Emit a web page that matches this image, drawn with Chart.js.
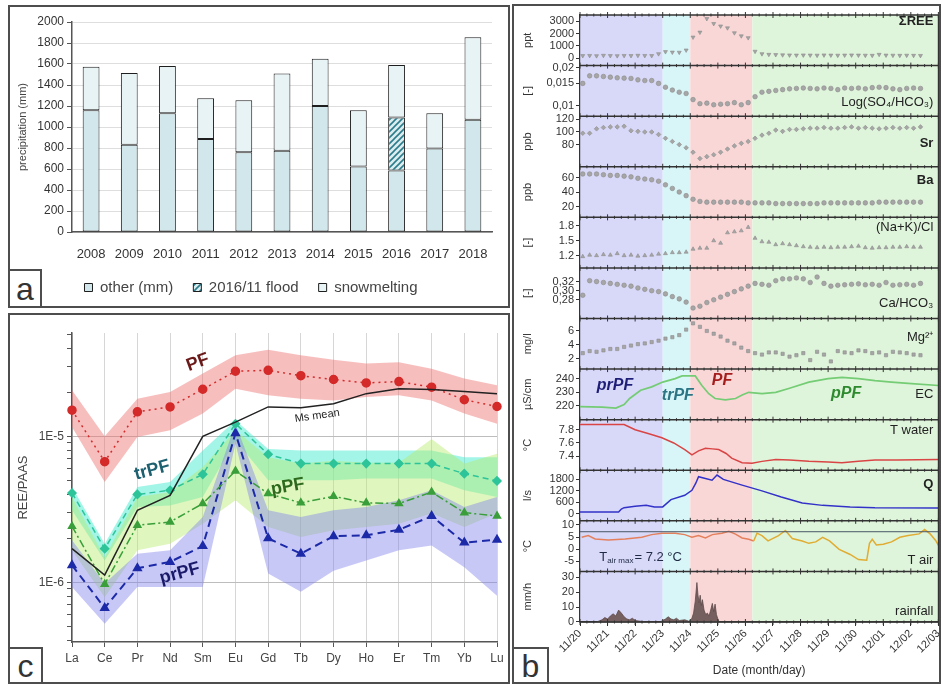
<!DOCTYPE html>
<html lang="en">
<head>
<meta charset="utf-8">
<title>Precipitation, REE patterns and flood hydrochemistry</title>
<script src="https://cdn.jsdelivr.net/npm/chart.js@4.4.1/dist/chart.umd.min.js"></script>
<style>
  html, body { margin: 0; padding: 0; background: #fff; }
  #page { position: relative; width: 942px; height: 684px; overflow: hidden; }
  canvas { position: absolute; }
  .frame { position: absolute; box-sizing: border-box; border: 2px solid #4d4d4d; pointer-events: none; }
  .tag { position: absolute; box-sizing: border-box; border: 2px solid #4d4d4d; background: #fff;
         font: 32px "Liberation Sans", Arial, sans-serif; color: #333; text-align: center; }
</style>
</head>
<body>
<div id="page">
  <canvas id="chartA" width="498" height="298" style="left:10px;top:7px"></canvas>
  <canvas id="chartC" width="498" height="366" style="left:10px;top:315px"></canvas>
  <canvas id="chartB" width="429" height="676" style="left:514px;top:6px"></canvas>
  <div class="frame" style="left:8px;top:5px;width:502px;height:303px"></div>
  <div class="frame" style="left:8px;top:313px;width:502px;height:371px"></div>
  <div class="frame" style="left:512px;top:4px;width:429px;height:680px"></div>
  <div class="tag" style="left:8px;top:269px;width:34px;height:39px;line-height:36px">a</div>
  <div class="tag" style="left:8px;top:647px;width:35px;height:37px;line-height:34px">c</div>
  <div class="tag" style="left:512px;top:647px;width:37px;height:37px;line-height:34px">b</div>
</div>
<script>
// ═══ (a) yearly precipitation ══════════════════════════════════════════
const years   = ['2008', '2009', '2010', '2011', '2012', '2013', '2014', '2015', '2016', '2017', '2018'];
const otherMm = [1160, 830, 1130, 885, 760, 775, 1200, 625, 585, 795, 1070];
const floodMm = [null, null, null, null, null, null, null, null, 505, null, null];
const snowMm  = [415, 685, 450, 390, 495, 735, 450, 535, 500, 335, 785];

// ═══ (c) REE/PAAS patterns ═════════════════════════════════════════════
const elements = ['La', 'Ce', 'Pr', 'Nd', 'Sm', 'Eu', 'Gd', 'Tb', 'Dy', 'Ho', 'Er', 'Tm', 'Yb', 'Lu'];
const pfMean   = [1.51e-5, 6.7e-6, 1.47e-5, 1.59e-5, 2.10e-5, 2.79e-5, 2.83e-5, 2.60e-5, 2.45e-5, 2.32e-5, 2.37e-5, 2.17e-5, 1.78e-5, 1.60e-5];
const pfHigh   = [2.07e-5, 1.0e-5, 1.81e-5, 2.01e-5, 2.69e-5, 3.59e-5, 3.92e-5, 3.59e-5, 3.35e-5, 3.15e-5, 3.22e-5, 2.9e-5, 2.49e-5, 2.24e-5];
const pfLow    = [1.16e-5, 4.87e-6, 9.9e-6, 1.1e-5, 1.43e-5, 2.12e-5, 1.91e-5, 1.81e-5, 1.76e-5, 1.86e-5, 1.91e-5, 1.76e-5, 1.43e-5, 1.22e-5];
const msMean   = [1.70e-6, 1.12e-6, 3.11e-6, 3.94e-6, 1.0e-5, 1.25e-5, 1.59e-5, 1.57e-5, 1.67e-5, 1.96e-5, 2.12e-5, 2.09e-5, 2.03e-5, 1.96e-5];
const trpfMean = [4.09e-6, 1.70e-6, 4.0e-6, 4.27e-6, 5.49e-6, 1.22e-5, 7.53e-6, 6.5e-6, 6.5e-6, 6.5e-6, 6.5e-6, 6.5e-6, 5.55e-6, 4.95e-6];
const trpfHigh = [4.5e-6, 1.84e-6, 4.5e-6, 4.87e-6, 8.0e-6, 1.29e-5, 8.2e-6, 8.0e-6, 8.0e-6, 8.0e-6, 8.0e-6, 8.0e-6, 7.2e-6, 7.2e-6];
const trpfLow  = [3.11e-6, 1.41e-6, 3.28e-6, 3.36e-6, 3.84e-6, 9.4e-6, 5.0e-6, 5.0e-6, 5.0e-6, 5.14e-6, 5.14e-6, 5.14e-6, 4.27e-6, 3.84e-6];
const ppfMean  = [2.42e-6, 9.7e-7, 2.46e-6, 2.59e-6, 3.46e-6, 5.79e-6, 4.05e-6, 3.5e-6, 3.88e-6, 3.5e-6, 3.46e-6, 4.15e-6, 3.0e-6, 2.85e-6];
const ppfHigh  = [3.84e-6, 1.49e-6, 3.84e-6, 4.16e-6, 6.17e-6, 1.1e-5, 7.2e-6, 6.5e-6, 6.8e-6, 6.6e-6, 6.6e-6, 9.6e-6, 6.5e-6, 7.6e-6];
const ppfLow   = [1.66e-6, 7.9e-7, 1.66e-6, 1.84e-6, 2.52e-6, 3.65e-6, 2.39e-6, 2.04e-6, 2.27e-6, 2.39e-6, 2.52e-6, 2.97e-6, 2.39e-6, 2.97e-6];
const prpfMean = [1.31e-6, 6.67e-7, 1.25e-6, 1.38e-6, 1.77e-6, 1.05e-5, 2.0e-6, 1.57e-6, 2.07e-6, 2.1e-6, 2.29e-6, 2.84e-6, 1.87e-6, 1.96e-6];
const prpfHigh = [1.94e-6, 9.8e-7, 1.57e-6, 1.66e-6, 2.8e-6, 1.22e-5, 3.11e-6, 2.8e-6, 3.11e-6, 3.28e-6, 3.65e-6, 4.27e-6, 3.28e-6, 3.84e-6];
const prpfLow  = [9.3e-7, 5.2e-7, 9.3e-7, 9.3e-7, 9.3e-7, 8.9e-6, 1.15e-6, 8.6e-7, 1.2e-6, 1.41e-6, 1.66e-6, 1.79e-6, 1.27e-6, 8.1e-7];
const reeTicks = [4e-7, 5e-7, 6e-7, 7e-7, 8e-7, 9e-7, 1e-6, 2e-6, 3e-6, 4e-6, 5e-6, 6e-6, 7e-6, 8e-6, 9e-6, 1e-5, 2e-5, 3e-5, 4e-5, 5e-5];

// ═══ (b) November 2016 flood time series (x = days after 11/20 00:00) ════
const dateLabels = ['11/20', '11/21', '11/22', '11/23', '11/24', '11/25', '11/26', '11/27', '11/28', '11/29', '11/30', '12/01', '12/02', '12/03'];
const phaseStart = [0, 3, 4, 6.25];
const phaseEnd   = [3, 4, 6.25, 13];
const sampleDay = [0.1, 0.35, 0.6, 0.85, 1.1, 1.35, 1.6, 1.85, 2.1, 2.35, 2.6, 2.85, 3.1, 3.35, 3.6, 3.85, 4.1, 4.35, 4.6, 4.85,
                   5.1, 5.35, 5.6, 5.85, 6.1, 6.35, 6.6, 6.85, 7.1, 7.35, 7.6, 7.85, 8.1, 8.35, 8.6, 8.85, 9.1, 9.35, 9.6, 9.85,
                   10.1, 10.35, 10.6, 10.85, 11.1, 11.35, 11.6, 11.85, 12.1, 12.35];
const reeSum = [200, 210, 190, 220, 200, 190, 210, 200, 220, 210, 200, 350, 520, 480, 470, 650, 1700, 2100, 3200, 2800,
                2600, 2450, 2050, 1800, 1650, 550, 350, 300, 280, 260, 250, 240, 250, 240, 230, 250, 240, 230, 240, 250,
                240, 230, 220, 300, 240, 230, 220, 230, 220, 210];
const so4Hco3 = [0.0150, 0.0172, 0.0172, 0.0170, 0.0168, 0.0166, 0.0165, 0.0164, 0.0160, 0.0158, 0.0158, 0.0150, 0.0140, 0.0133, 0.0128, 0.0125,
                 0.0112, 0.0104, 0.0105, 0.0102, 0.0103, 0.0104, 0.0106, 0.0102, 0.0106, 0.0118, 0.0128, 0.0130, 0.0132, 0.0134,
                 0.0136, 0.0137, 0.0138, 0.0137, 0.0136, 0.0138, 0.0137, 0.0134, 0.0138, 0.0137, 0.0138, 0.0136, 0.0139, 0.0140,
                 0.0139, 0.0136, 0.0134, 0.0137, 0.0138, 0.0137];
const srPpb = [98, 98, 105, 107, 108, 108, 109, 102, 101, 100, 100, 96, 90, 85, 80, 75, 68, 58, 61, 64, 68, 73, 78, 82, 85,
               90, 95, 98, 103, 101, 104, 104, 105, 106, 106, 107, 106, 106, 107, 108, 106, 107, 106, 105, 106, 107, 106, 107, 106, 108];
const baPpb = [65, 65, 65, 64, 63, 63, 62, 61, 59, 58, 57, 55, 50, 45, 40, 35, 30, 27, 26, 26, 26, 26, 26, 26, 25,
               25, 25, 25, 24, 24, 24, 24, 24, 24, 24, 25, 25, 25, 25, 25, 25, 25, 25, 26, 26, 26, 26, 26, 26, 26];
const naKCl = [1.18, 1.21, 1.20, 1.22, 1.21, 1.24, 1.20, 1.21, 1.19, 1.20, 1.21, 1.23, 1.24, 1.26, 1.26, 1.27,
               1.33, 1.35, 1.35, 1.50, 1.45, 1.66, 1.68, 1.70, 1.77, 1.55, 1.48, 1.47, 1.42, 1.44, 1.42, 1.40, 1.38, 1.37,
               1.36, 1.37, 1.36, 1.37, 1.37, 1.38, 1.39, 1.36, 1.35, 1.36, 1.36, 1.37, 1.37, 1.38, 1.37, 1.37];
const caHco3 = [0.290, 0.322, 0.320, 0.318, 0.316, 0.314, 0.312, 0.310, 0.306, 0.303, 0.300, 0.298, 0.293, 0.287, 0.282, 0.275,
                0.262, 0.266, 0.274, 0.280, 0.286, 0.292, 0.298, 0.304, 0.310, 0.316, 0.314, 0.312, 0.322, 0.326, 0.326, 0.328,
                0.326, 0.318, 0.330, 0.316, 0.310, 0.312, 0.313, 0.314, 0.315, 0.313, 0.314, 0.312, 0.318, 0.312, 0.313, 0.314, 0.312, 0.316];
const mgMgl = [2.8, 3.1, 3.0, 3.2, 3.4, 3.4, 3.7, 3.9, 4.1, 4.2, 4.4, 4.6, 4.9, 5.1, 5.4, 6.2, 7.1, 6.6, 6.0, 5.6, 5.2, 4.6, 4.2, 3.6, 3.1,
               2.8, 2.6, 2.9, 2.9, 2.7, 2.3, 2.5, 2.8, 1.8, 3.0, 2.6, 1.6, 3.1, 2.9, 2.8, 3.2, 3.1, 2.8, 2.9, 2.5, 3.0, 2.9, 2.8, 2.6, 2.5];
const ecDay = [0, 0.8, 1.3, 1.6, 1.8, 2.2, 2.6, 3.0, 3.45, 3.7, 4.18, 4.42, 4.67, 4.9, 5.27, 5.64, 5.88, 6.12, 6.6, 7.1, 7.6, 8.3, 9.0, 9.5, 10.1, 10.7, 11.3, 11.9, 13];
const ecVal = [219.5, 219.2, 218.5, 221, 225.5, 231.5, 234, 237.5, 240, 242, 242, 235, 229, 225.5, 224.5, 225.5, 228, 230, 229, 230, 233, 237.5, 240, 241, 240, 238.5, 237.5, 236.5, 235];
const twDay = [0, 1.6, 2.0, 2.5, 2.97, 3.4, 3.8, 4.06, 4.3, 4.55, 4.8, 5.03, 5.3, 5.5, 5.88, 6.24, 6.6, 7.1, 7.6, 8.3, 9.0, 9.5, 10.1, 10.7, 11.5, 13];
const twVal = [7.88, 7.88, 7.80, 7.74, 7.68, 7.60, 7.50, 7.42, 7.48, 7.52, 7.51, 7.50, 7.44, 7.37, 7.30, 7.29, 7.32, 7.35, 7.34, 7.32, 7.31, 7.30, 7.32, 7.34, 7.34, 7.35];
const qDay = [0, 1.4, 1.5, 1.6, 2.0, 2.4, 2.7, 3.0, 3.3, 3.8, 4.06, 4.2, 4.3, 4.55, 4.79, 4.97, 5.2, 5.88, 6.6, 7.3, 8.06, 8.8, 9.8, 10.7, 13];
const qVal = [90, 90, 250, 320, 390, 440, 350, 360, 740, 970, 1230, 1600, 1940, 1850, 1760, 2030, 1800, 1500, 1200, 880, 570, 440, 354, 317, 300];
const taDay = [0.06, 0.3, 0.55, 1.03, 1.64, 2.24, 2.6, 2.97, 3.45, 3.8, 4.06, 4.3, 4.55, 4.8, 5.15, 5.4, 5.64, 5.88, 6.12, 6.3, 6.42, 6.6, 6.82,
               7.2, 7.45, 7.7, 8.06, 8.3, 8.55, 8.8, 9.05, 9.4, 9.8, 10.1, 10.4, 10.5, 10.6, 10.75, 11.0, 11.3, 11.6, 11.9, 12.3, 12.5, 12.7, 12.9, 13.0];
const taVal = [4.9, 5.6, 4.2, 3.8, 4.2, 4.9, 6.0, 6.6, 6.6, 6.0, 4.9, 5.6, 4.6, 6.0, 6.6, 7.4, 6.2, 4.6, 4.1, 3.4, 6.6, 5.6, 3.4,
               5.6, 7.7, 4.4, 3.4, 2.4, 3.0, 4.9, 3.4, -0.1, -2.2, -4.3, -4.6, 2.4, 4.1, 1.7, 2.0, 3.0, 4.9, 5.6, 6.3, 8.1, 6.3, 3.6, 1.6];
const taMax = 7.2;
const rainDay = [0.6, 0.8, 0.9, 1.0, 1.1, 1.2, 1.3, 1.4, 1.5, 1.6, 1.7, 1.8, 1.9, 2.0, 2.2, 2.4, 2.9, 3.0, 3.1, 3.2, 3.3, 3.4, 3.5, 3.6, 3.8, 3.95,
                 4.05, 4.12, 4.18, 4.24, 4.28, 4.32, 4.36, 4.4, 4.44, 4.5, 4.56, 4.62, 4.68, 4.74, 4.8, 4.85, 4.9, 4.95, 5.0, 5.05, 13];
const rainMm  = [0, 1.5, 3, 2, 4, 5.5, 4, 8, 6, 3.5, 2, 1.5, 2.5, 1, 0.5, 0, 0, 1, 2, 3.5, 2, 1.5, 2.5, 1, 1.5, 0.5,
                 2, 6, 14, 26.5, 18, 13, 18, 11, 15, 8, 5, 6, 4, 8, 12.5, 7, 12, 5, 2, 0, 0];

const seriesNames = ['ΣREE', 'Log(SO₄/HCO₃)', 'Sr', 'Ba', '(Na+K)/Cl', 'Ca/HCO₃', 'Mg²⁺', 'EC', 'T water', 'Q', 'T air', 'rainfall'];
const phaseNames  = ['prPF', 'trPF', 'PF', 'pPF'];

Chart.defaults.font.family = '"Liberation Sans", Arial, sans-serif';
Chart.defaults.color = '#333';
Chart.defaults.animation = false;

const FONT = '"Liberation Sans", Arial, sans-serif';
const pts = (xs, ys) => xs.map((x, i) => ({ x, y: ys[i] }));

// ─── (a) ────────────────────────────────────────────────────────────────
function floodPattern() {
    const c = document.createElement('canvas');
    c.width = 6; c.height = 6;
    const g = c.getContext('2d');
    g.fillStyle = '#dcedf0';
    g.fillRect(0, 0, 6, 6);
    g.strokeStyle = '#2b7d8c';
    g.lineWidth = 1.6;
    g.beginPath();
    g.moveTo(0, 6); g.lineTo(6, 0);
    g.moveTo(-1, 1); g.lineTo(1, -1);
    g.moveTo(5, 7); g.lineTo(7, 5);
    g.stroke();
    return g.createPattern(c, 'repeat');
}

const barStyle = { borderColor: '#1e1e1e', borderWidth: 1, borderSkipped: false };
new Chart(document.getElementById('chartA'), {
    type: 'bar',
    data: {
        labels: years,
        datasets: [
            { label: 'other (mm)',    data: otherMm, backgroundColor: '#d2e7eb', ...barStyle },
            { label: '2016/11 flood', data: floodMm, backgroundColor: floodPattern(), ...barStyle },
            { label: 'snowmelting',   data: snowMm,  backgroundColor: '#e8f3f5', ...barStyle }
        ]
    },
    options: {
        responsive: false,
        layout: { padding: { top: 15, right: 16, left: 0, bottom: 0 } },
        datasets: { bar: { barPercentage: 0.44, categoryPercentage: 1 } },
        plugins: {
            tooltip: { enabled: false },
            legend: { position: 'bottom', labels: { boxWidth: 8, boxHeight: 8, padding: 20, color: '#444', font: { size: 15 } } }
        },
        scales: {
            x: {
                stacked: true,
                grid: { display: false },
                border: { color: '#555', width: 1.5 },
                ticks: { color: '#333', font: { size: 13 }, padding: 7 },
                afterFit: (s) => { s.height = 28; }
            },
            y: {
                stacked: true, min: 0, max: 2000,
                ticks: { stepSize: 200, color: '#333', font: { size: 12 }, callback: (v) => String(v) },
                grid: { color: '#dedede', tickColor: '#555', tickLength: 5 },
                border: { color: '#555', width: 1.5 },
                title: { display: true, text: 'precipitation (mm)', color: '#444', font: { size: 11 }, padding: { top: 6, bottom: 0 } },
                afterFit: (s) => { s.width = 62; }
            }
        }
    }
});

// ─── (c) ────────────────────────────────────────────────────────────────
function band(high, low, color) {
    return [
        { data: high, fill: '+1', backgroundColor: color, borderWidth: 0, pointRadius: 0, order: 5 },
        { data: low, fill: false, borderWidth: 0, pointRadius: 0, order: 5 }
    ];
}
function meanLine(data, color, dash, style, width) {
    return {
        data, borderColor: color, borderDash: dash, borderWidth: width || 1.5, fill: false,
        pointStyle: style, pointRadius: 4, pointBackgroundColor: color, pointBorderColor: color, order: 1
    };
}

const reeLabels = [
    { text: 'PF',      at: 3.85, val: 3.2e-5,  rot: -20, color: '#6b1a1a', font: 'bold 18px ' + FONT },
    { text: 'trPF',    at: 2.45, val: 5.85e-6, rot: -15, color: '#1d6070', font: 'bold 18px ' + FONT },
    { text: 'pPF',     at: 6.6,  val: 4.5e-6,  rot: -10, color: '#2d6a1d', font: 'bold 18px ' + FONT },
    { text: 'prPF',    at: 3.3,  val: 1.15e-6, rot: -15, color: '#1a1a6a', font: 'bold 18px ' + FONT },
    { text: 'Ms mean', at: 7.5,  val: 1.38e-5, rot: -8,  color: '#222',    font: '11px ' + FONT }
];

new Chart(document.getElementById('chartC'), {
    type: 'line',
    data: {
        labels: elements,
        datasets: [
            ...band(prpfHigh, prpfLow, 'rgba(125,125,235,0.42)'),
            ...band(ppfHigh, ppfLow, 'rgba(185,235,110,0.45)'),
            ...band(trpfHigh, trpfLow, 'rgba(60,235,205,0.48)'),
            ...band(pfHigh, pfLow, 'rgba(238,110,110,0.45)'),
            { data: msMean, borderColor: '#222', borderWidth: 1.5, pointRadius: 0, fill: false, order: 1 },
            meanLine(pfMean, '#d42a2a', [2, 4], 'circle'),
            meanLine(trpfMean, '#2ec49a', [6, 4], 'rectRot'),
            meanLine(ppfMean, '#3a9f3a', [8, 3, 2, 3], 'triangle'),
            meanLine(prpfMean, '#1c2aa8', [8, 5], 'triangle', 2)
        ]
    },
    options: {
        responsive: false,
        layout: { padding: { top: 18, right: 11, left: 0, bottom: 0 } },
        plugins: { legend: { display: false }, tooltip: { enabled: false } },
        scales: {
            x: {
                offset: false,
                grid: { color: '#d6d6d6', tickColor: '#555', tickLength: 5 },
                border: { color: '#555', width: 1.5 },
                ticks: { color: '#444', font: { size: 12 }, padding: 4 },
                afterFit: (s) => { s.height = 39; }
            },
            y: {
                type: 'logarithmic', min: 3.9e-7, max: 5.1e-5,
                afterBuildTicks: (s) => { s.ticks = reeTicks.map(v => ({ value: v })); },
                ticks: {
                    autoSkip: false, color: '#444', font: { size: 12 },
                    callback: (v) => (v === 1e-5 ? '1E-5' : v === 1e-6 ? '1E-6' : '')
                },
                grid: {
                    tickColor: '#555', tickLength: 5,
                    color: (c) => (c.tick && (c.tick.value === 1e-5 || c.tick.value === 1e-6) ? '#bdbdbd' : 'rgba(0,0,0,0)')
                },
                border: { color: '#555', width: 1.5 },
                title: { display: true, text: 'REE/PAAS', color: '#444', font: { size: 13 }, padding: { top: 6, bottom: 0 } },
                afterFit: (s) => { s.width = 62; }
            }
        }
    },
    plugins: [{
        id: 'reeText',
        afterDatasetsDraw(chart) {
            const { ctx, scales: { x, y } } = chart;
            reeLabels.forEach(l => {
                ctx.save();
                ctx.translate(x.getPixelForValue(l.at), y.getPixelForValue(l.val));
                ctx.rotate(l.rot * Math.PI / 180);
                ctx.font = l.font;
                ctx.fillStyle = l.color;
                ctx.textAlign = 'center';
                ctx.textBaseline = 'middle';
                ctx.fillText(l.text, 0, 0);
                ctx.restore();
            });
        }
    }]
});

// ─── (b) ────────────────────────────────────────────────────────────────
const subplots = [
    { id: 'yRee',  unit: 'ppt',   min: -600,  max: 3500,   ticks: [0, 1000, 2000, 3000],  labels: ['0', '1000', '2000', '3000'] },
    { id: 'ySo4',  unit: '[-]',   min: 0.0083, max: 0.0207, ticks: [0.01, 0.015, 0.02],   labels: ['0,01', '0,015', '0,02'], type: 'logarithmic' },
    { id: 'ySr',   unit: 'ppb',   min: 45,    max: 125,    ticks: [80, 100, 120],         labels: ['80', '100', '120'] },
    { id: 'yBa',   unit: 'ppb',   min: 5,     max: 75,     ticks: [20, 40, 60],           labels: ['20', '40', '60'] },
    { id: 'yNaK',  unit: '[-]',   min: 0.95,  max: 1.97,   ticks: [1.2, 1.5, 1.8],        labels: ['1.2', '1.5', '1.8'] },
    { id: 'yCa',   unit: '[-]',   min: 0.239, max: 0.350,  ticks: [0.28, 0.30, 0.32],     labels: ['0,28', '0,30', '0,32'] },
    { id: 'yMg',   unit: 'mg/l',  min: 0.5,   max: 7.8,    ticks: [2, 4, 6],              labels: ['2', '4', '6'] },
    { id: 'yEc',   unit: 'µS/cm', min: 210,   max: 247,    ticks: [220, 230, 240],        labels: ['220', '230', '240'] },
    { id: 'yTw',   unit: '°C',    min: 7.185, max: 7.954,  ticks: [7.4, 7.6, 7.8],        labels: ['7.4', '7.6', '7.8'] },
    { id: 'yQ',    unit: 'l/s',   min: -370,  max: 2280,   ticks: [0, 600, 1200, 1800],   labels: ['0', '600', '1200', '1800'] },
    { id: 'yTa',   unit: '°C',    min: -9.2,  max: 11.7,   ticks: [-5, 0, 5, 10],         labels: ['-5', '0', '5', '10'] },
    { id: 'yRain', unit: 'mm/h',  min: 0,     max: 34,     ticks: [0, 10, 20, 30],        labels: ['0', '10', '20', '30'] }
];

const scalesB = {
    x: {
        type: 'linear', position: 'bottom', min: 0, max: 13,
        afterBuildTicks: (s) => { s.ticks = dateLabels.map((_, i) => ({ value: i })); },
        ticks: { autoSkip: false, minRotation: 45, maxRotation: 45, color: '#333', font: { size: 11 }, padding: 1,
                 callback: (v, i) => dateLabels[i] },
        grid: { drawOnChartArea: false, tickLength: 4, color: '#333' },
        border: { color: '#333', width: 1.5 },
        title: { display: true, text: 'Date (month/day)', color: '#333', font: { size: 12 }, padding: { top: 0, bottom: 4 } },
        afterFit: (s) => { s.height = 60; s.paddingLeft = 0; s.paddingRight = 0; }
    }
};
subplots.forEach((p, i) => {
    scalesB[p.id] = {
        type: p.type || 'linear', position: 'left', stack: 'flood', stackWeight: 1, weight: subplots.length - i,
        min: p.min, max: p.max,
        afterBuildTicks: (s) => { s.ticks = p.ticks.map(v => ({ value: v })); },
        ticks: { autoSkip: false, color: '#333', font: { size: 11 }, padding: 2, callback: (v, k) => p.labels[k] },
        grid: { drawOnChartArea: false, tickLength: 4, color: '#333' },
        border: { color: '#333', width: 1.2 },
        title: { display: true, text: p.unit, color: '#333', font: { size: 11 }, padding: { top: 3, bottom: 0 } },
        afterFit: (s) => { s.width = 62; }
    };
});

const dots = (ys, axis, style, rot) => ({
    type: 'scatter', data: pts(sampleDay, ys), yAxisID: axis,
    pointStyle: style, pointRotation: rot || 0, pointRadius: 2.3,
    pointBackgroundColor: '#a6a6a6', pointBorderColor: '#8c8c8c', pointBorderWidth: 0.6
});
const trace = (xs, ys, axis, color, extra) => ({
    type: 'line', data: pts(xs, ys), yAxisID: axis, borderColor: color, borderWidth: 1.5,
    pointRadius: 0, fill: false, tension: 0, ...extra
});

const phaseColors = ['#d8d8f9', '#d8f6f8', '#fad7d7', '#dff5db'];
const phaseTextColors = ['#1e1e78', '#2b7585', '#a51c1c', '#2e8a2e'];
const phaseTextAt = [1.27, 3.55, 5.15, 9.65];
const phaseTextFrac = [0.33, 0.52, 0.23, 0.48];
const nameFrac = [0.12, 0.72, 0.54, 0.27, 0.2, 0.7, 0.38, 0.51, 0.22, 0.29, 0.79, 0.79];
const nameBold = [true, false, true, true, false, false, false, false, false, true, false, false];

new Chart(document.getElementById('chartB'), {
    type: 'scatter',
    data: {
        datasets: [
            dots(reeSum, 'yRee', 'triangle', 180),
            dots(so4Hco3, 'ySo4', 'circle'),
            dots(srPpb, 'ySr', 'rectRot'),
            dots(baPpb, 'yBa', 'circle'),
            dots(naKCl, 'yNaK', 'triangle'),
            dots(caHco3, 'yCa', 'circle'),
            dots(mgMgl, 'yMg', 'rect'),
            trace(ecDay, ecVal, 'yEc', '#74cc74', { borderWidth: 1.7 }),
            trace(twDay, twVal, 'yTw', '#d94545'),
            trace(qDay, qVal, 'yQ', '#3232c8'),
            trace([0, 13], [taMax, taMax], 'yTa', '#4a5666', { borderWidth: 1 }),
            trace(taDay, taVal, 'yTa', '#e4805c', {
                segment: { borderColor: (c) => (c.p0.parsed.x >= phaseStart[3] ? '#e0ac32' : '#e4805c') }
            }),
            trace(rainDay, rainMm, 'yRain', '#5e4a4a', { borderWidth: 0.8, fill: 'origin', backgroundColor: '#76605f' })
        ]
    },
    options: {
        responsive: false,
        layout: { padding: { top: 9, right: 0, left: 4, bottom: 0 } },
        plugins: { legend: { display: false }, tooltip: { enabled: false } },
        scales: scalesB
    },
    plugins: [{
        id: 'phases',
        beforeDraw(chart) {
            const { ctx, chartArea: a, scales: { x } } = chart;
            ctx.save();
            phaseStart.forEach((d, i) => {
                const x0 = x.getPixelForValue(d), x1 = x.getPixelForValue(phaseEnd[i]);
                ctx.fillStyle = phaseColors[i];
                ctx.fillRect(x0, a.top, x1 - x0, a.bottom - a.top);
            });
            ctx.restore();
        },
        afterDatasetsDraw(chart) {
            const { ctx, chartArea: a, scales } = chart;
            const x = scales.x;
            ctx.save();
            // separators with tick marks between the stacked panels
            const edges = [scales[subplots[0].id].top, ...subplots.map(p => scales[p.id].bottom)];
            ctx.strokeStyle = '#333';
            edges.forEach(yy => {
                ctx.lineWidth = 1.5;
                ctx.beginPath(); ctx.moveTo(a.left, yy); ctx.lineTo(a.right, yy); ctx.stroke();
                ctx.lineWidth = 1;
                for (let k = 0; k <= 52; k++) {
                    const px = x.getPixelForValue(k / 4), h = k % 4 === 0 ? 3 : 1.5;
                    ctx.beginPath(); ctx.moveTo(px, yy - h); ctx.lineTo(px, yy + h); ctx.stroke();
                }
            });
            ctx.lineWidth = 1.2;
            ctx.beginPath(); ctx.moveTo(a.right, a.top); ctx.lineTo(a.right, a.bottom); ctx.stroke();

            // series names, right aligned
            ctx.textAlign = 'right';
            ctx.textBaseline = 'middle';
            ctx.fillStyle = '#222';
            subplots.forEach((p, i) => {
                const s = scales[p.id];
                ctx.font = (nameBold[i] ? 'bold ' : '') + '13px ' + FONT;
                ctx.fillText(seriesNames[i], a.right - 5, s.top + nameFrac[i] * (s.bottom - s.top));
            });

            // flood phase names inside the EC panel
            const ec = scales.yEc;
            ctx.textAlign = 'center';
            ctx.font = 'italic bold 16px ' + FONT;
            phaseNames.forEach((n, i) => {
                ctx.fillStyle = phaseTextColors[i];
                ctx.fillText(n, x.getPixelForValue(phaseTextAt[i]), ec.top + phaseTextFrac[i] * (ec.bottom - ec.top));
            });

            // T air max annotation
            const ta = scales.yTa;
            let tx = x.getPixelForValue(0.7);
            const ty = ta.top + 0.72 * (ta.bottom - ta.top);
            ctx.textAlign = 'left';
            ctx.fillStyle = '#1f2a44';
            ctx.font = '13px ' + FONT;
            ctx.fillText('T', tx, ty);
            tx += ctx.measureText('T').width;
            ctx.font = '8px ' + FONT;
            ctx.fillText('air max', tx, ty + 4);
            tx += ctx.measureText('air max').width + 1;
            ctx.font = '13px ' + FONT;
            ctx.fillText('= ' + taMax.toFixed(1) + ' °C', tx, ty);
            ctx.restore();
        }
    }]
});
</script>
</body>
</html>
